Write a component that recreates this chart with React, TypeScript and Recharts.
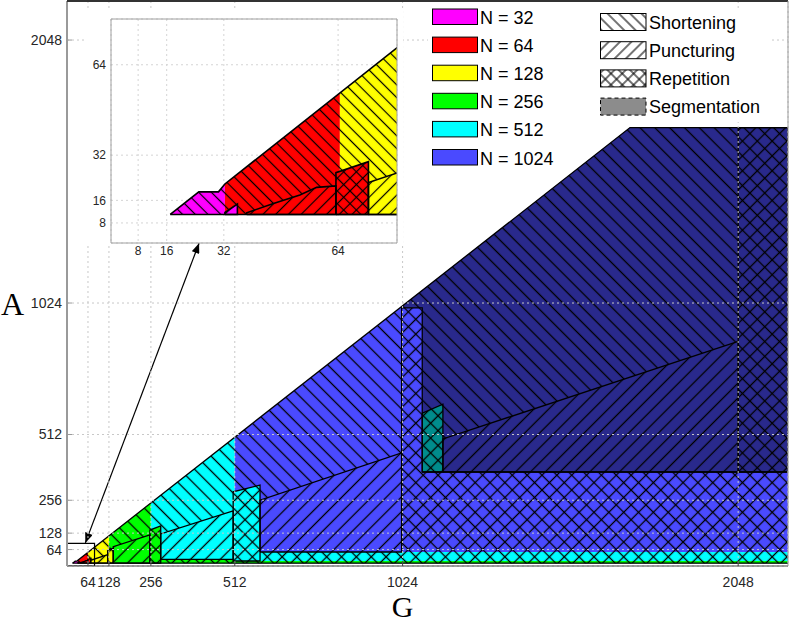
import React from 'react';
import {
  ComposedChart,
  Area,
  Line,
  XAxis,
  YAxis,
  CartesianGrid,
  Legend,
} from 'recharts';

type Row = [number, number, number]; // G, lower A, upper A
type Pt = [number, number]; // G, A
type Tone = 'n32' | 'n64' | 'n128' | 'n256' | 'n512' | 'n1024' | 'seg1024' | 'seg512';
type Hatch = 'back' | 'fwd' | 'cross';

const FONT = '"Liberation Sans", Arial, Helvetica, sans-serif';
const SERIF = '"Liberation Serif", "Times New Roman", serif';

const gTicks = [64, 128, 256, 512, 1024, 2048];
const aTicks = [64, 128, 256, 512, 1024, 2048];
const zoomTicks = [8, 16, 32, 64];

const tones: Record<Tone, string> = {
  n32: '#ff00ff',
  n64: '#ff0000',
  n128: '#ffff00',
  n256: '#00ff00',
  n512: '#00ffff',
  n1024: '#4a4aff',
  seg1024: '#29298c',
  seg512: '#008c8c',
};

// colour band of each N
const bandN32: Row[] = [[17, 11, 11], [25, 11, 19], [30.5, 11, 19], [32.3, 11, 21.8]];
const bandN64: Row[] = [[32.3, 11, 21.8], [64.5, 11, 54]];
const bandN128: Row[] = [[64.5, 11, 54], [128, 11, 117.5]];
const bandN256: Row[] = [[128, 11, 117.5], [256, 11, 245.5]];
const bandN512: Row[] = [[256, 11, 245.5], [512, 11, 501.5]];
const bandN1024: Row[] = [[512, 11, 501.5], [1718, 11, 1707], [2200, 11, 1707]];
const segmented: Row[] = [[1021, 1005, 1010.5], [1084, 1005, 1073.5], [1084, 366, 1073.5], [1718, 366, 1707], [2200, 366, 1707]];

// whole feasible region (shortening hatch goes over it)
const feasible: Row[] = [[17, 11, 11], [25, 11, 19], [30.5, 11, 19], [32.3, 11, 21.8], [1718, 11, 1707], [2200, 11, 1707]];

// strips at small A
const stripN256: Row[] = [[253, 11, 26], [507, 11, 26], [507, 11, 19.5], [2200, 11, 19.5]];
const stripN512: Row[] = [[507, 19.5, 54.5], [2200, 19.5, 54.5]];
const repN1024: Row[] = [[1021, 54.5, 1005], [1084, 54.5, 1005], [1084, 54.5, 366], [2200, 54.5, 366]];

// puncturing / repetition boxes
const punctN32: Row[] = [[32.3, 11, 11.7], [35.8, 11, 14.7]];
const punctN64: Row[] = [[38.4, 11, 11.6], [45.9, 11, 14.9], [53.3, 11, 17.9], [58, 11, 20.6], [63.4, 11, 21.1]];
const repN64: Row[] = [[63.4, 11, 25.8], [72.5, 11, 29.7]];
const punctN128: Row[] = [[72.5, 11, 22.3], [124, 11, 44]];
const repN128: Row[] = [[124, 11, 62], [141, 11, 69]];
const punctN256: Row[] = [[141, 11, 75], [253, 11, 121]];
const repN256: Row[] = [[253, 11, 140], [286, 11, 156]];
const punctN512: Row[] = [[286, 26, 124.6], [507, 26, 215]];
const repN512: Row[] = [[507, 19.5, 289], [589, 19.5, 315]];
const punctN1024: Row[] = [[589, 54.5, 256], [1021, 54.5, 440]];
const repSeg512: Row[] = [[1084, 366, 595], [1147, 366, 630]];
const punctSeg: Row[] = [[1147, 366, 494.5], [2048, 366, 875]];
const repSeg: Row[] = [[2048, 366, 1707], [2200, 366, 1707]];

// single edges
const outerTop: Pt[] = [[17, 11], [25, 19], [30.5, 19], [32.3, 21.8], [1718, 1707], [2200, 1707]];
const outerBottom: Pt[] = [[17, 11], [2200, 11]];
const repN1024Edge: Pt[] = [[1021, 54.5], [1021, 1005], [1084, 1005], [1084, 366], [2200, 366]];
const zoomBox: Pt[] = [[0, 0], [0, 88], [84, 88], [84, 0], [0, 0]];
const zoomArrow: Pt[] = [[56, 90], [403, 1257]];

const baseFills: [Row[], Tone][] = [
  [bandN32, 'n32'],
  [bandN64, 'n64'],
  [bandN128, 'n128'],
  [bandN256, 'n256'],
  [bandN512, 'n512'],
  [bandN1024, 'n1024'],
  [segmented, 'seg1024'],
];

const hatched: { rows: Row[]; tone: Tone; hatch: Hatch; edge: boolean }[] = [
  { rows: stripN256, tone: 'n256', hatch: 'cross', edge: false },
  { rows: stripN512, tone: 'n512', hatch: 'cross', edge: false },
  { rows: repN1024, tone: 'n1024', hatch: 'cross', edge: false },
  { rows: punctN32, tone: 'n32', hatch: 'fwd', edge: true },
  { rows: punctN64, tone: 'n64', hatch: 'fwd', edge: true },
  { rows: repN64, tone: 'n64', hatch: 'cross', edge: true },
  { rows: punctN128, tone: 'n128', hatch: 'fwd', edge: true },
  { rows: repN128, tone: 'n128', hatch: 'cross', edge: true },
  { rows: punctN256, tone: 'n256', hatch: 'fwd', edge: true },
  { rows: repN256, tone: 'n256', hatch: 'cross', edge: true },
  { rows: punctN512, tone: 'n512', hatch: 'fwd', edge: true },
  { rows: repN512, tone: 'n512', hatch: 'cross', edge: true },
  { rows: punctN1024, tone: 'n1024', hatch: 'fwd', edge: true },
  { rows: repSeg512, tone: 'seg512', hatch: 'cross', edge: true },
  { rows: punctSeg, tone: 'seg1024', hatch: 'fwd', edge: true },
  { rows: repSeg, tone: 'seg1024', hatch: 'cross', edge: true },
];

const nLegend: { label: string; tone: Tone }[] = [
  { label: 'N = 32', tone: 'n32' },
  { label: 'N = 64', tone: 'n64' },
  { label: 'N = 128', tone: 'n128' },
  { label: 'N = 256', tone: 'n256' },
  { label: 'N = 512', tone: 'n512' },
  { label: 'N = 1024', tone: 'n1024' },
];
const opLegend: { label: string; hatch: Hatch | 'seg' }[] = [
  { label: 'Shortening', hatch: 'back' },
  { label: 'Puncturing', hatch: 'fwd' },
  { label: 'Repetition', hatch: 'cross' },
  { label: 'Segmentation', hatch: 'seg' },
];

const toArea = (rows: Row[]) => rows.map(([g, lo, hi]) => ({ g, r: [lo, hi] }));
const toLine = (pts: Pt[]) => pts.map(([g, a]) => ({ g, a }));
const ring = (rows: Row[]): Pt[] => [
  [rows[0][0], rows[0][1]],
  ...rows.map(([g, , hi]): Pt => [g, hi]),
  ...[...rows].reverse().map(([g, lo]): Pt => [g, lo]),
];

const hatchPattern = (id: string, kind: Hatch, size: number, lw: number, color?: string) => (
  <pattern
    key={id}
    id={id}
    patternUnits="userSpaceOnUse"
    width={size}
    height={size}
    patternTransform={`rotate(${kind === 'back' ? -45 : 45})`}
  >
    {color && <rect width={size} height={size} fill={color} />}
    <line x1={size / 2} y1={0} x2={size / 2} y2={size} stroke="#000" strokeWidth={lw} />
    {kind === 'cross' && <line x1={0} y1={size / 2} x2={size} y2={size / 2} stroke="#000" strokeWidth={lw} />}
  </pattern>
);

const patternDefs = (prefix: string, size: number, lw: number) => {
  const used = Array.from(new Set(hatched.map((h) => `${h.hatch}-${h.tone}`)));
  return (
    <defs>
      {hatchPattern(`${prefix}-back`, 'back', size, lw)}
      {used.map((key) => {
        const [kind, tone] = key.split('-') as [Hatch, Tone];
        return hatchPattern(`${prefix}-${key}`, kind, size, lw, tones[tone]);
      })}
      <marker
        id={`${prefix}-arrow`}
        viewBox="0 0 10 8"
        refX={10}
        refY={4}
        markerWidth={11}
        markerHeight={8}
        markerUnits="userSpaceOnUse"
        orient="auto-start-reverse"
      >
        <path d="M0,0 L10,4 L0,8 z" fill="#000" />
      </marker>
    </defs>
  );
};

const regionLayers = (prefix: string, lw: number) => {
  const area = (key: string, rows: Row[], fill: string) => (
    <Area
      key={key}
      data={toArea(rows)}
      dataKey="r"
      type="linear"
      fill={fill}
      fillOpacity={1}
      stroke="none"
      dot={false}
      activeDot={false}
      isAnimationActive={false}
    />
  );
  const line = (key: string, pts: Pt[]) => (
    <Line
      key={key}
      data={toLine(pts)}
      dataKey="a"
      type="linear"
      stroke="#000"
      strokeWidth={lw}
      dot={false}
      activeDot={false}
      isAnimationActive={false}
    />
  );
  return [
    ...baseFills.map(([rows, tone], i) => area(`${prefix}b${i}`, rows, tones[tone])),
    area(`${prefix}short`, feasible, `url(#${prefix}-back)`),
    ...hatched.map((h, i) => area(`${prefix}h${i}`, h.rows, `url(#${prefix}-${h.hatch}-${h.tone})`)),
    line(`${prefix}top`, outerTop),
    line(`${prefix}bottom`, outerBottom),
    line(`${prefix}rep`, repN1024Edge),
    ...hatched.filter((h) => h.edge).map((h, i) => line(`${prefix}e${i}`, ring(h.rows))),
  ];
};

const LegendOverlay = () => (
  <svg width={789} height={175} style={{ display: 'block', pointerEvents: 'none' }}>
    <defs>
      {hatchPattern('lg-back', 'back', 8, 1.1, '#fff')}
      {hatchPattern('lg-fwd', 'fwd', 8, 1.1, '#fff')}
      {hatchPattern('lg-cross', 'cross', 8, 1.1, '#fff')}
    </defs>
    <rect x={428} y={8} width={132} height={164} fill="#fff" />
    <rect x={560} y={8} width={212} height={114} fill="#fff" />
    {nLegend.map((d, i) => (
      <g key={d.label}>
        <rect x={432.5} y={9 + i * 28.1} width={45} height={15.5} fill={tones[d.tone]} stroke="#000" />
        <text x={480} y={24 + i * 28.1} fontSize={18} fontFamily={FONT} fill="#000">
          {d.label}
        </text>
      </g>
    ))}
    {opLegend.map((d, i) => (
      <g key={d.label}>
        <rect
          x={600.5}
          y={13.5 + i * 28.2}
          width={45.5}
          height={17}
          fill={d.hatch === 'seg' ? '#8c8c8c' : `url(#lg-${d.hatch})`}
          stroke="#000"
          strokeDasharray={d.hatch === 'seg' ? '4 3' : undefined}
        />
        <text x={649} y={28.5 + i * 28.2} fontSize={18} fontFamily={FONT} fill="#000">
          {d.label}
        </text>
      </g>
    ))}
  </svg>
);

const tickStyle = { fontSize: 14, fill: '#262626', fontFamily: FONT };
const zoomTickStyle = { fontSize: 12, fill: '#262626', fontFamily: FONT };

export default function App() {
  return (
    <div style={{ position: 'absolute', left: 0, top: 0, width: 789, height: 624, background: '#fff', overflow: 'hidden' }}>
      <ComposedChart width={789} height={624} margin={{ top: 0, right: 0, bottom: 0, left: 7 }}>
        {patternDefs('m', 10.5, 1.3)}
        <XAxis
          type="number"
          dataKey="g"
          domain={[0, 2200]}
          allowDataOverflow
          ticks={gTicks}
          interval={0}
          height={58}
          tickSize={-5}
          tickMargin={16}
          tick={tickStyle}
          axisLine={{ stroke: '#444' }}
          tickLine={{ stroke: '#444' }}
          label={{ value: 'G', position: 'insideBottom', offset: 7, dx: -25, fontSize: 30, fontFamily: SERIF, fill: '#000' }}
        />
        <YAxis
          type="number"
          domain={[0, 2200]}
          allowDataOverflow
          ticks={aTicks}
          interval={0}
          width={60}
          tickSize={-5}
          tickMargin={10}
          tick={tickStyle}
          axisLine={{ stroke: '#9a9a9a', strokeWidth: 2 }}
          tickLine={{ stroke: '#9a9a9a' }}
          label={{ value: 'A', position: 'insideLeft', offset: 0, dx: -6, dy: 20, fontSize: 32, fontFamily: SERIF, fill: '#000' }}
        />
        <XAxis
          xAxisId="t"
          orientation="top"
          type="number"
          domain={[0, 2200]}
          ticks={gTicks}
          interval={0}
          height={1}
          tick={false}
          tickSize={-6}
          axisLine={{ stroke: '#333', strokeWidth: 2 }}
          tickLine={{ stroke: '#333' }}
        />
        <YAxis
          yAxisId="r"
          orientation="right"
          type="number"
          domain={[0, 2200]}
          ticks={aTicks}
          interval={0}
          width={1}
          tick={false}
          tickSize={-6}
          axisLine={{ stroke: '#9a9a9a' }}
          tickLine={{ stroke: '#666' }}
        />
        {regionLayers('m', 1.3)}
        <Line
          data={toLine(zoomBox)}
          dataKey="a"
          type="linear"
          stroke="#000"
          strokeWidth={1.2}
          dot={false}
          activeDot={false}
          isAnimationActive={false}
        />
        <Line
          data={toLine(zoomArrow)}
          dataKey="a"
          type="linear"
          stroke="#000"
          strokeWidth={1.2}
          markerStart="url(#m-arrow)"
          markerEnd="url(#m-arrow)"
          dot={false}
          activeDot={false}
          isAnimationActive={false}
        />
        <CartesianGrid stroke="#c8c8c8" strokeDasharray="2 3" zIndex={450} />
        <Legend
          layout="vertical"
          align="center"
          verticalAlign="middle"
          wrapperStyle={{ left: 0, top: 0, width: 789, height: 175 }}
          content={() => <LegendOverlay />}
        />
      </ComposedChart>

      <div style={{ position: 'absolute', left: 86, top: 8, width: 317, height: 235, background: '#fff' }} />
      <div style={{ position: 'absolute', left: 0, top: 0 }}>
        <ComposedChart width={398} height={272} margin={{ top: 18, right: 0, bottom: 0, left: 81 }}>
          {patternDefs('i', 9, 1.2)}
          <CartesianGrid fill="#fff" stroke="#d4d4d4" strokeDasharray="2 3" />
          <XAxis
            type="number"
            dataKey="g"
            domain={[0.4, 80.5]}
            allowDataOverflow
            ticks={zoomTicks}
            interval={0}
            height={29}
            tickLine={false}
            tickSize={0}
            tickMargin={3}
            tick={zoomTickStyle}
            axisLine={{ stroke: '#a0a0a0' }}
          />
          <YAxis
            type="number"
            domain={[0.9, 80.2]}
            allowDataOverflow
            ticks={zoomTicks}
            interval={0}
            width={30}
            tickLine={false}
            tickSize={0}
            tickMargin={5}
            tick={zoomTickStyle}
            axisLine={{ stroke: '#a0a0a0' }}
          />
          <XAxis
            xAxisId="t"
            orientation="top"
            type="number"
            domain={[0.4, 80.5]}
            height={1}
            tick={false}
            tickLine={false}
            axisLine={{ stroke: '#a0a0a0' }}
          />
          <YAxis
            yAxisId="r"
            orientation="right"
            type="number"
            domain={[0.9, 80.2]}
            width={1}
            tick={false}
            tickLine={false}
            axisLine={{ stroke: '#a0a0a0' }}
          />
          {regionLayers('i', 1.6)}
        </ComposedChart>
      </div>
    </div>
  );
}
